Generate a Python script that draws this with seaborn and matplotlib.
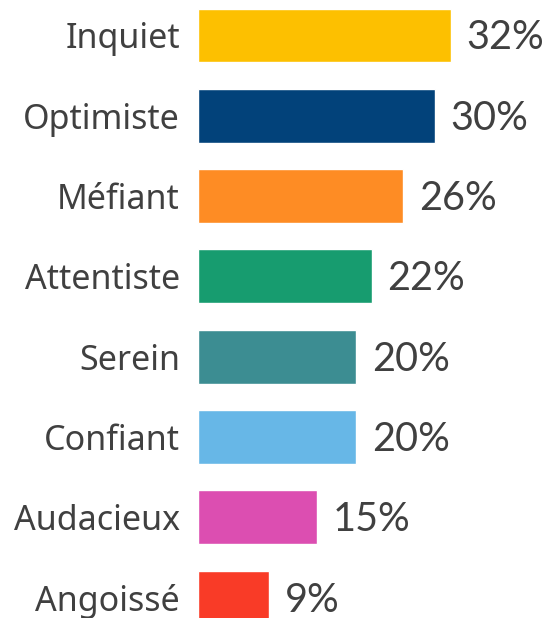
import matplotlib
matplotlib.use("Agg")
import matplotlib.pyplot as plt
import seaborn as sns
import pandas as pd

categories = ["Inquiet", "Optimiste", "Méfiant", "Attentiste", "Serein",
              "Confiant", "Audacieux", "Angoissé"]
values = [32, 30, 26, 22, 20, 20, 15, 9]
colors = ["#FDC000", "#02427A", "#FE8C24", "#179C6F", "#3C8D92",
          "#67B7E7", "#DC4EB1", "#F93B27"]

df = pd.DataFrame({"categorie": categories, "pct": values})

sns.set_style("white")
fig = plt.figure(figsize=(5.52, 6.18), dpi=100)
ax = fig.add_axes([198 / 552, 0, 1 - 198 / 552, 1])

sns.barplot(data=df, y="categorie", x="pct", hue="categorie",
            palette=colors, orient="h", width=0.67, legend=False,
            saturation=1, ax=ax)

for i, v in enumerate(values):
    ax.text(v + 2.0, i + 0.03, f"{v}%", va="center", ha="left",
            fontsize=28.5, color="#404040", family="Lato")

ax.set_xlim(0, (552 - 198) / 7.9)
ax.set_ylim(7.254, -0.442)
ax.set_xlabel("")
ax.set_ylabel("")
ax.set_xticks([])
for lab in ax.get_yticklabels():
    lab.set_family("Noto Sans")
ax.tick_params(axis="y", length=0, pad=13, labelsize=24.5, labelcolor="#404040")
sns.despine(ax=ax, left=True, bottom=True)

fig.savefig("out.png", dpi=100)
